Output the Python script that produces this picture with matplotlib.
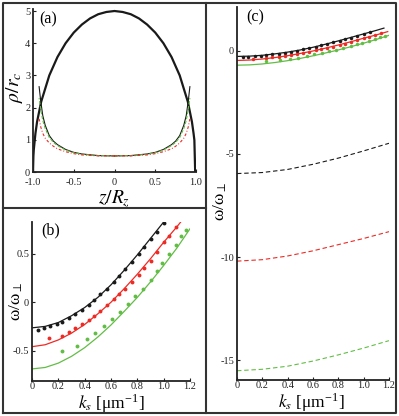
import numpy as np
import matplotlib
matplotlib.use('Agg')
import matplotlib.pyplot as plt
from matplotlib.lines import Line2D

plt.rcParams['font.family'] = ['Liberation Serif', 'DejaVu Serif']
plt.rcParams['mathtext.fontset'] = 'stix'

# ---- panel (a): density profiles ----
z_tf = [-1.0, -0.995, -0.99, -0.97, -0.95, -0.9, -0.8, -0.7, -0.6, -0.5, -0.4, -0.3, -0.2, -0.1, 0.0,
        0.1, 0.2, 0.3, 0.4, 0.5, 0.6, 0.7, 0.8, 0.9, 0.95, 0.97, 0.98, 0.99]
rho_tf = [0.0, 0.5, 0.7, 1.2, 1.56, 2.18, 3.0, 3.57, 4.0, 4.33, 4.58, 4.77, 4.9, 4.97, 5.0,
          4.97, 4.9, 4.77, 4.58, 4.33, 4.0, 3.57, 3.0, 2.18, 1.56, 1.2, 0.99, 0.0]

z_core = [0.0, 0.2, 0.4, 0.5, 0.6, 0.7, 0.75, 0.8, 0.85, 0.88, 0.905, 0.925]
rho_core = [0.50, 0.51, 0.56, 0.61, 0.70, 0.85, 0.96, 1.13, 1.45, 1.75, 2.2, 2.65]
rho_green = [0.50, 0.51, 0.55, 0.60, 0.68, 0.82, 0.92, 1.07, 1.35, 1.6, 1.95, 2.3]
rho_red = [0.50, 0.50, 0.53, 0.57, 0.63, 0.72, 0.80, 0.90, 1.05, 1.2, 1.4, 1.65]

# ---- panels (b),(c): dispersion ----
k_line = [0.0, 0.1, 0.2, 0.3, 0.4, 0.5, 0.6, 0.7, 0.8, 0.9, 1.0, 1.1, 1.2]
w_black = [-0.265, -0.25, -0.21, -0.14, -0.055, 0.05, 0.18, 0.33, 0.49, 0.66, 0.83, 1.0, 1.16]
w_red = [-0.46, -0.44, -0.39, -0.32, -0.23, -0.12, 0.0, 0.14, 0.29, 0.45, 0.62, 0.78, 0.95]
w_green = [-0.69, -0.675, -0.63, -0.56, -0.47, -0.36, -0.235, -0.095, 0.05, 0.21, 0.38, 0.56, 0.76]

k_dot_black = [0.045, 0.09, 0.14, 0.19, 0.23, 0.28, 0.33, 0.38, 0.43, 0.47, 0.52, 0.57, 0.62,
               0.66, 0.71, 0.76, 0.81, 0.85, 0.90, 0.95, 1.0, 1.05]
w_dot_black = [-0.29, -0.27, -0.25, -0.225, -0.2, -0.165, -0.125, -0.08, -0.03, 0.02, 0.08, 0.14,
               0.21, 0.27, 0.34, 0.42, 0.5, 0.57, 0.65, 0.73, 0.82, 0.9]
k_dot_red = [0.13, 0.23, 0.28, 0.33, 0.38, 0.43, 0.47, 0.52, 0.57, 0.62, 0.66, 0.71, 0.76, 0.81,
             0.85, 0.90, 0.95, 1.0, 1.04, 1.09, 1.14]
w_dot_red = [-0.37, -0.35, -0.31, -0.27, -0.23, -0.18, -0.14, -0.09, -0.03, 0.03, 0.08, 0.14,
             0.21, 0.28, 0.35, 0.43, 0.52, 0.62, 0.69, 0.78, 0.87]
k_dot_green = [0.225, 0.34, 0.42, 0.48, 0.55, 0.61, 0.67, 0.73, 0.78, 0.84, 0.90, 0.95, 0.99,
               1.04, 1.09, 1.13, 1.17]
w_dot_green = [-0.50, -0.45, -0.385, -0.32, -0.25, -0.17, -0.10, -0.02, 0.06, 0.14, 0.23, 0.32,
               0.41, 0.50, 0.59, 0.69, 0.75]

k_dash = [0.0, 0.2, 0.4, 0.6, 0.8, 1.0, 1.2]
w_dash_black = [-5.95, -5.9, -5.75, -5.5, -5.2, -4.85, -4.48]
w_dash_red = [-10.2, -10.13, -9.95, -9.7, -9.4, -9.1, -8.77]
w_dash_green = [-15.52, -15.45, -15.3, -15.05, -14.75, -14.42, -14.06]

xticks_a = [-1.0, -0.5, 0, 0.5, 1.0]
xticklabels_a = ['-1.0', '-0.5', '0', '0.5', '1.0']
yticks_a = [0, 1, 2, 3, 4, 5]
xticks_k = [0, 0.2, 0.4, 0.6, 0.8, 1.0, 1.2]
xticklabels_k = ['0', '0.2', '0.4', '0.6', '0.8', '1.0', '1.2']
yticks_b = [-0.5, 0, 0.5]
yticklabels_b = ['-0.5', '0', '0.5']
yticks_c = [0, -5, -10, -15]
yticklabels_c = ['0', '-5', '-10', '-15']

RED = '#ee2a24'
GREEN = '#62bd45'

fig = plt.figure(figsize=(3.99, 4.16), dpi=100)
W, H = 399.0, 416.0


def box(l, t, r, b):
    return [l / W, 1 - b / H, (r - l) / W, (b - t) / H]


def style(ax):
    for s in ['top', 'right']:
        ax.spines[s].set_visible(False)
    for s in ['left', 'bottom']:
        ax.spines[s].set_linewidth(1.3)
        ax.spines[s].set_color('#222222')
    ax.tick_params(direction='in', length=2, width=0.8, labelsize=7.5, pad=2, colors='#222222')
    ax.tick_params(axis='x', pad=1)


KLABEL = r'$k_s$ [μm$^{\mathregular{-1}}$]'
WLABEL = r'$\mathregular{\omega/\omega_\perp}$'

# (a)
ax1 = fig.add_axes(box(33, 9.4, 196, 172))
style(ax1)
ax1.tick_params(axis='x', pad=4)
zc = np.array(z_core)
ax1.plot(z_tf, rho_tf, color='#1a1a1a', lw=1.6)
for sgn in (-1, 1):
    ax1.plot(sgn * zc, rho_core, color='#1a1a1a', lw=0.8)
    ax1.plot(sgn * zc, rho_green, color=GREEN, lw=0.8, dashes=(3, 1.5))
    ax1.plot(sgn * zc, rho_red, color=RED, lw=0.8, dashes=(2.5, 1.8, 0.8, 1.8))
ax1.set_xlim(-1, 1)
ax1.set_ylim(0, 5.05)
ax1.set_xticks(xticks_a)
ax1.set_xticklabels(xticklabels_a)
ax1.set_yticks(yticks_a)
ax1.set_xlabel(r'$z/R_z$', fontsize=14)
ax1.set_ylabel(r'$\rho/r_c$', fontsize=14)
ax1.xaxis.set_label_coords(0.5, -0.1)
ax1.yaxis.set_label_coords(-0.05, 0.52)
ax1.text(0.04, 0.99, '(a)', transform=ax1.transAxes, fontsize=11.5, va='top', ha='left')

# (b)
ax2 = fig.add_axes(box(32, 222, 190, 381))
style(ax2)
ax2.plot(k_line, w_black, color='#1a1a1a', lw=0.9)
ax2.plot(k_line, w_red, color=RED, lw=0.9)
ax2.plot(k_line, w_green, color=GREEN, lw=0.9)
ax2.plot(k_dot_black, w_dot_black, 'o', color='#1a1a1a', ms=2.8, mew=0)
ax2.plot(k_dot_red, w_dot_red, 'o', color=RED, ms=2.8, mew=0)
ax2.plot(k_dot_green, w_dot_green, 'o', color=GREEN, ms=2.8, mew=0)
ax2.set_xlim(0, 1.2)
ax2.set_ylim(-0.815, 0.83)
ax2.set_xticks(xticks_k)
ax2.set_xticklabels(xticklabels_k)
ax2.set_yticks(yticks_b)
ax2.set_yticklabels(yticklabels_b)
ax2.set_xlabel(KLABEL, fontsize=12.5)
ax2.set_ylabel(WLABEL, fontsize=12.5)
ax2.xaxis.set_label_coords(0.5, -0.07)
ax2.yaxis.set_label_coords(-0.045, 0.5)
ax2.text(0.06, 1.0, '(b)', transform=ax2.transAxes, fontsize=11.5, va='top', ha='left')

# (c)
ax3 = fig.add_axes(box(237, 7.3, 389, 380))
style(ax3)
ax3.plot(k_line[:-1] + [1.16], w_black[:-1] + [1.11], color='#1a1a1a', lw=0.9)
ax3.plot(k_line[:-1] + [1.19], w_red[:-1] + [0.94], color=RED, lw=0.9)
ax3.plot(k_line, w_green, color=GREEN, lw=0.9)
ax3.plot(k_dot_black, w_dot_black, 'o', color='#1a1a1a', ms=2.5, mew=0)
ax3.plot(k_dot_red, w_dot_red, 'o', color=RED, ms=2.5, mew=0)
ax3.plot(k_dot_green, w_dot_green, 'o', color=GREEN, ms=2.5, mew=0)
ax3.plot(k_dash, w_dash_black, color='#1a1a1a', lw=0.8, dashes=(4, 2.5))
ax3.plot(k_dash, w_dash_red, color=RED, lw=0.8, dashes=(4, 2.5))
ax3.plot(k_dash, w_dash_green, color=GREEN, lw=0.8, dashes=(4, 2.5))
ax3.set_xlim(0, 1.2)
ax3.set_ylim(-15.97, 2.12)
ax3.set_xticks(xticks_k)
ax3.set_xticklabels(xticklabels_k)
ax3.set_yticks(yticks_c)
ax3.set_yticklabels(yticklabels_c)
ax3.set_xlabel(KLABEL, fontsize=12.5)
ax3.set_ylabel(WLABEL, fontsize=12.5)
ax3.xaxis.set_label_coords(0.49, -0.03)
ax3.yaxis.set_label_coords(-0.05, 0.48)
ax3.text(0.06, 0.995, '(c)', transform=ax3.transAxes, fontsize=11.5, va='top', ha='left')

# panel frames
frame = dict(color='#333333', lw=1.5, transform=fig.transFigure)
x0, x1, xm = 3 / W, 396 / W, 206 / W
y0, y1, ym = 1 - 413 / H, 1 - 3 / H, 1 - 208 / H
for xs, ys in [([x0, x1, x1, x0, x0], [y0, y0, y1, y1, y0]),
               ([xm, xm], [y0, y1]),
               ([x0, xm], [ym, ym])]:
    fig.add_artist(Line2D(xs, ys, **frame))

fig.savefig('out.png', dpi=100)
